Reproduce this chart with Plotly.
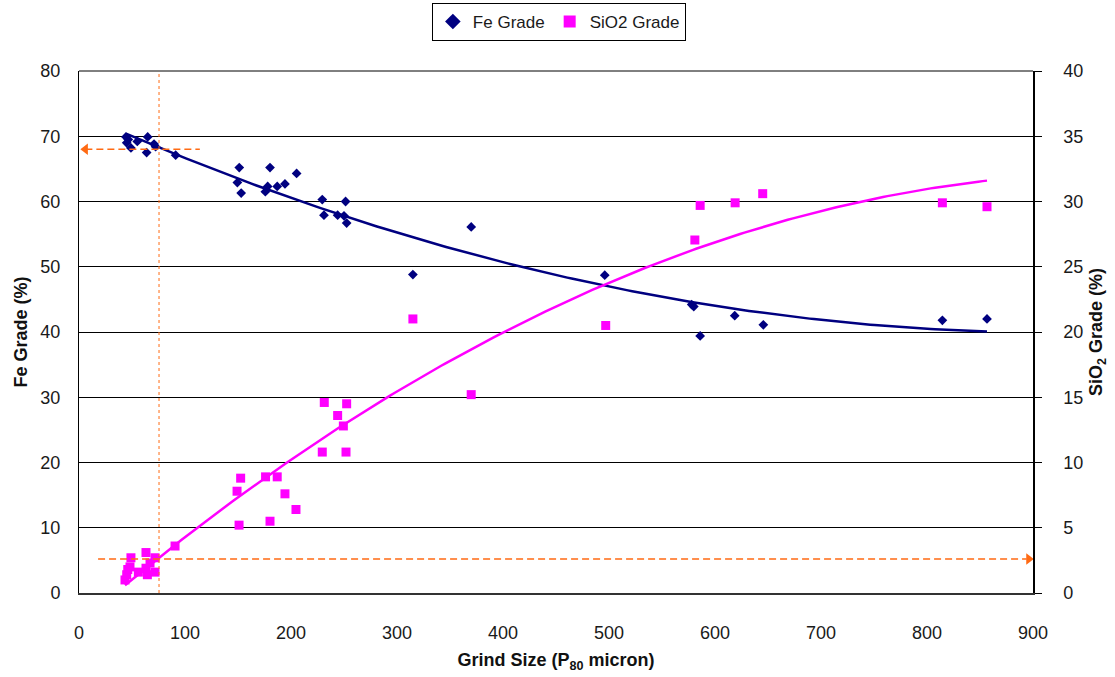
import numpy as np
import plotly.graph_objects as go

# Fe grade vs grind size (P80, micron)
fe_size = [44.3, 45.0, 46.5, 49.0, 55.0, 63.8, 64.8, 70.8, 72.3, 91.2,
           149.4, 151.2, 153.0, 175.8, 178.0, 180.2, 187.0, 194.3, 205.3,
           229.5, 231.1, 244.0, 250.0, 251.5, 252.5,
           315.0, 370.0, 496.0, 578.0, 580.0, 586.0, 618.6, 645.6, 814.5, 856.6]
fe_grade = [69.9, 69.0, 69.5, 68.2, 69.2, 67.5, 69.9, 68.8, 68.4, 67.1,
            62.9, 65.2, 61.3, 61.5, 62.3, 65.2, 62.3, 62.7, 64.3,
            60.3, 57.9, 57.9, 57.8, 60.0, 56.7,
            48.8, 56.1, 48.7, 44.2, 43.9, 39.4, 42.5, 41.1, 41.8, 42.0]

# SiO2 grade vs grind size (P80, micron)
si_size = [43.4, 45.0, 46.0, 48.1, 49.0, 56.0, 63.2, 63.2, 64.5, 67.0, 71.7, 71.7, 90.6,
           149.1, 151.0, 152.5, 176.0, 180.2, 187.0, 194.3, 204.7,
           229.5, 231.4, 244.0, 249.4, 251.9, 252.5,
           315.0, 370.0, 496.9, 581.0, 586.0, 619.0, 645.0, 814.5, 856.6]
si_grade = [1.0, 1.4, 1.8, 2.0, 2.7, 1.6, 3.1, 1.9, 1.4, 2.3, 2.7, 1.6, 3.6,
            7.8, 5.2, 8.8, 8.9, 5.5, 8.9, 7.6, 6.4,
            10.8, 14.6, 13.6, 12.8, 10.8, 14.5,
            21.0, 15.2, 20.5, 27.05, 29.7, 29.9, 30.6, 29.9, 29.6]

# Target grind size and the grades
target_size = 75.5
target_fe = 68.0
target_si = 2.6

NAVY = "#000080"
MAGENTA = "#FF00FF"
ORANGE = "#FF6A13"
FONT = "Liberation Sans, Arial, sans-serif"

# Second-order polynomial trend lines (least squares)
fe_coef = np.polyfit(fe_size, fe_grade, 2)
si_coef = np.polyfit(si_size, si_grade, 2)
x_fe = np.linspace(min(fe_size), max(fe_size), 200)
x_si = np.linspace(min(si_size), max(si_size), 200)

fig = go.Figure()

fig.add_trace(go.Scatter(x=x_fe, y=np.polyval(fe_coef, x_fe), mode="lines",
                         line=dict(color=NAVY, width=2.5), showlegend=False,
                         hoverinfo="skip"))
fig.add_trace(go.Scatter(x=x_si, y=np.polyval(si_coef, x_si), mode="lines",
                         line=dict(color=MAGENTA, width=2.5), showlegend=False,
                         yaxis="y2", hoverinfo="skip"))

fig.add_trace(go.Scatter(x=fe_size, y=fe_grade, mode="markers", name="Fe Grade",
                         marker=dict(symbol="diamond", size=7.5, color=NAVY)))
fig.add_trace(go.Scatter(x=si_size, y=si_grade, mode="markers", name="SiO2 Grade",
                         marker=dict(symbol="square", size=9, color=MAGENTA),
                         yaxis="y2"))

# Guide lines: target grind size and the grades it gives
fig.add_shape(type="line", xref="x", yref="y", x0=target_size, x1=target_size,
              y0=0, y1=80, line=dict(color=ORANGE, width=1, dash="3px,3px"))
fig.add_shape(type="line", xref="x", yref="y", x0=6, x1=114,
              y0=target_fe, y1=target_fe, line=dict(color=ORANGE, width=1.5, dash="7px,4px"))
fig.add_shape(type="line", xref="x", yref="y2", x0=18, x1=894,
              y0=target_si, y1=target_si, line=dict(color=ORANGE, width=1.5, dash="7px,4px"))

# Arrow heads at the axes
fig.add_trace(go.Scatter(x=[6], y=[target_fe], mode="markers", cliponaxis=False,
                         marker=dict(symbol="triangle-left", size=10, color=ORANGE),
                         showlegend=False, hoverinfo="skip"))
fig.add_trace(go.Scatter(x=[896], y=[target_si], mode="markers", cliponaxis=False,
                         marker=dict(symbol="triangle-right", size=10, color=ORANGE),
                         showlegend=False, yaxis="y2", hoverinfo="skip"))

tick_font = dict(family=FONT, size=18, color="#1a1a1a")
title_font = dict(family=FONT, size=18, color="#111")

fig.update_layout(
    width=1115, height=677,
    margin=dict(l=79, r=82, t=71, b=84, autoexpand=False),
    paper_bgcolor="white", plot_bgcolor="white",
    font=dict(family=FONT, size=17, color="#1a1a1a"),
    showlegend=True,
    legend=dict(orientation="h", x=0.503, xanchor="center", y=1.094, yanchor="middle",
                bgcolor="white", bordercolor="black", borderwidth=1,
                font=dict(family=FONT, size=17, color="#1a1a1a"), itemwidth=30,
                itemsizing="constant", tracegroupgap=0),
    xaxis=dict(range=[0, 900], dtick=100, showgrid=False, zeroline=False,
               showline=True, linecolor="#333", linewidth=2, mirror=False,
               ticks="", tickfont=tick_font, ticklabelstandoff=22,
               title=dict(text="<b>Grind Size (P<sub>80</sub> micron)</b>",
                          font=title_font, standoff=12)),
    yaxis=dict(range=[0, 80], dtick=10, showgrid=True, gridcolor="black", gridwidth=1,
               zeroline=False, showline=True, linecolor="black", linewidth=1,
               ticks="", tickfont=tick_font, ticklabelstandoff=14,
               title=dict(text="<b>Fe Grade (%)</b>", font=title_font, standoff=8)),
    yaxis2=dict(range=[0, 40], dtick=5, overlaying="y", side="right", showgrid=False,
                zeroline=False, showline=True, linecolor="black", linewidth=1.5,
                ticks="outside", ticklen=7, tickcolor="black", tickfont=tick_font,
                ticklabelstandoff=18,
                title=dict(text="<b>SiO<sub>2</sub> Grade (%)</b>", font=title_font, standoff=7)),
)

# Top border of the plot area
fig.add_shape(type="line", xref="paper", yref="paper", x0=0, x1=1, y0=1, y1=1,
              line=dict(color="black", width=1))

fig.write_html("out.html")
